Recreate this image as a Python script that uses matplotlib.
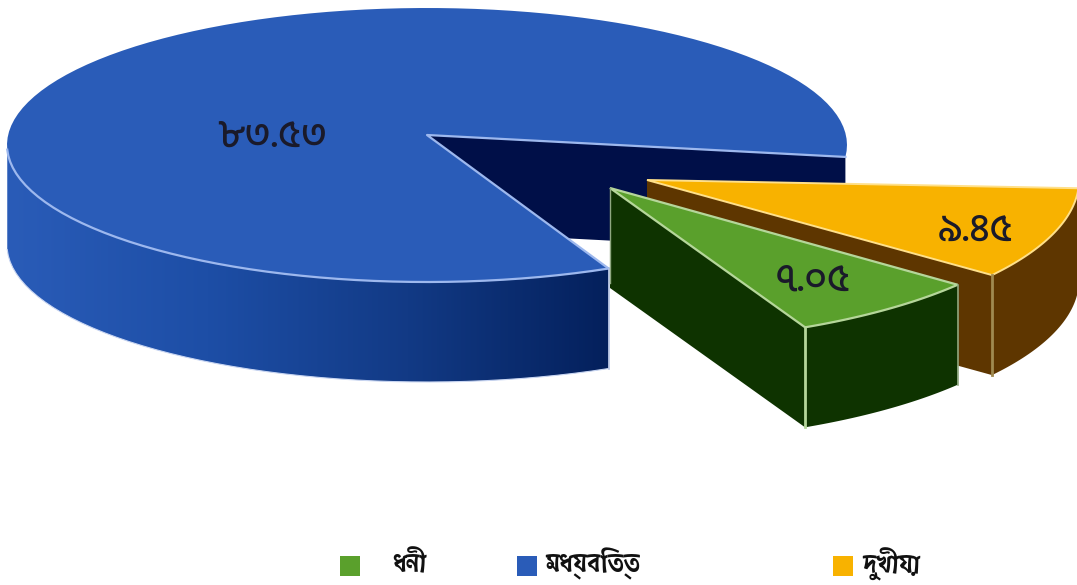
import numpy as np
import matplotlib
matplotlib.use('Agg')
import matplotlib.pyplot as plt
from matplotlib.colors import LinearSegmentedColormap
from matplotlib.patches import Polygon, Rectangle

# 数据
labels = ['ধনী', 'মধ্যবিত্ত', 'দুখীয়া']
values = [7.05, 83.53, 9.45]
value_labels = ['৭.০৫', '৮৩.৫৩', '৯.৪৫']

top_colors = ['#5AA02C', '#2A5CB8', '#F8B200']
wall_colors = ['#0E3300', '#000F48', '#5E3600']
edge_colors = ['#B5D69A', '#9DB8EE', '#FFE08A']

DEPTH = 100


def rim(cx, cy, a, b, start, span, n=120):
    """椭圆弧上的点，角度按逆时针，屏幕y向下"""
    t = np.radians(np.linspace(start, start + span, n))
    return np.column_stack([cx + a * np.cos(t), cy - b * np.sin(t)])


def shade_poly(ax, pts, stops, zorder):
    """用横向渐变填充多边形"""
    cmap = LinearSegmentedColormap.from_list('side', stops)
    x0, x1 = pts[:, 0].min(), pts[:, 0].max()
    y0, y1 = pts[:, 1].min(), pts[:, 1].max()
    grad = np.linspace(0, 1, 256).reshape(1, -1)
    im = ax.imshow(grad, extent=[x0, x1, y1, y0], cmap=cmap, aspect='auto', zorder=zorder)
    clip = Polygon(pts, closed=True, transform=ax.transData, fc='none', ec='none')
    ax.add_patch(clip)
    im.set_clip_path(clip)


def down(pts, d=DEPTH):
    return pts + np.array([0, d])


def wall(p, q, d=DEPTH):
    p, q = np.array(p), np.array(q)
    return np.array([p, q, q + [0, d], p + [0, d]])


fig = plt.figure(figsize=(10.77, 5.85), dpi=100)
ax = fig.add_axes([0, 0, 1, 1])
ax.set_xlim(0, 1077)
ax.set_ylim(585, 0)
ax.axis('off')

spans = [v / sum(values) * 360 for v in values]

# 中间大块（蓝）
apex = np.array([427, 135])
start = -5.0
arc = rim(427, 145, 420, 137, start, spans[1])
ax.add_patch(Polygon(wall(apex, arc[0], 96), fc=wall_colors[1], ec='none', zorder=1))
front = arc[np.radians(np.linspace(start, start + spans[1], len(arc))) > np.pi]
shade_poly(ax, np.vstack([front, down(front)[::-1]]),
           ['#2A5CB8', '#1D4EA6', '#123A85', '#04205C'], 2)
ax.plot(*down(front).T, color='#C9D6F2', lw=0.8, zorder=2)
ax.add_patch(Polygon(np.vstack([apex, arc]), fc=top_colors[1], ec='none', zorder=3))
ax.plot(*front.T, color=edge_colors[1], lw=1.6, zorder=4)
ax.plot(*np.vstack([arc[0], apex, arc[-1]]).T, color=edge_colors[1], lw=1.6, zorder=4)
ax.plot([arc[-1][0]] * 2, [arc[-1][1], arc[-1][1] + DEPTH], color='#B9C6E6', lw=1.2, zorder=4)

# 黄色块
apex = np.array([647, 180])
arc = rim(647, 180, 432, 158, -37, spans[2])
ax.add_patch(Polygon(wall(apex, arc[0]), fc=wall_colors[2], ec='none', zorder=5))
ax.add_patch(Polygon(np.vstack([arc, down(arc)[::-1]]), fc=wall_colors[2], ec='none', zorder=5))
ax.add_patch(Polygon(np.vstack([apex, arc]), fc=top_colors[2], ec=edge_colors[2], lw=1.4, zorder=6))
ax.plot([arc[0][0]] * 2, [arc[0][1], arc[0][1] + DEPTH], color='#A08A50', lw=2, zorder=6)

# 绿色块
apex = np.array([610, 188])
arc = rim(610, 188, 445, 155, -64, spans[0])
ax.add_patch(Polygon(wall(apex, arc[0]), fc=wall_colors[0], ec='none', zorder=7))
ax.add_patch(Polygon(np.vstack([arc, down(arc)[::-1]]), fc=wall_colors[0], ec='none', zorder=7))
ax.add_patch(Polygon(np.vstack([apex, arc]), fc=top_colors[0], ec=edge_colors[0], lw=1.6, zorder=8))
ax.plot([arc[0][0]] * 2, [arc[0][1], arc[0][1] + DEPTH], color=edge_colors[0], lw=2, zorder=8)
ax.plot([arc[-1][0]] * 2, [arc[-1][1], arc[-1][1] + DEPTH], color='#8FA880', lw=1.2, zorder=8)
ax.plot([apex[0]] * 2, [apex[1], apex[1] + 95], color='#8FA880', lw=1, zorder=8)

# 数值标签
for txt, (x, y) in zip(value_labels, [(813, 281), (272, 137), (975, 231)]):
    ax.text(x, y, txt, fontsize=28, family=['Hind Siliguri', 'DejaVu Sans'], fontweight=500,
            color='#1A1A2A', ha='center', va='center', zorder=10)

# 图例
for lab, col, sx, tx in zip(labels, top_colors, [340, 517, 833], [392, 545, 862]):
    ax.add_patch(Rectangle((sx, 556), 20, 20, fc=col, ec='none', zorder=10))
    ax.text(tx, 564, lab, fontsize=19, family=['Atma', 'DejaVu Sans'], fontweight=600,
            color='#111111', ha='left', va='center', zorder=10)

plt.savefig('out.png', dpi=100)
plt.close()
